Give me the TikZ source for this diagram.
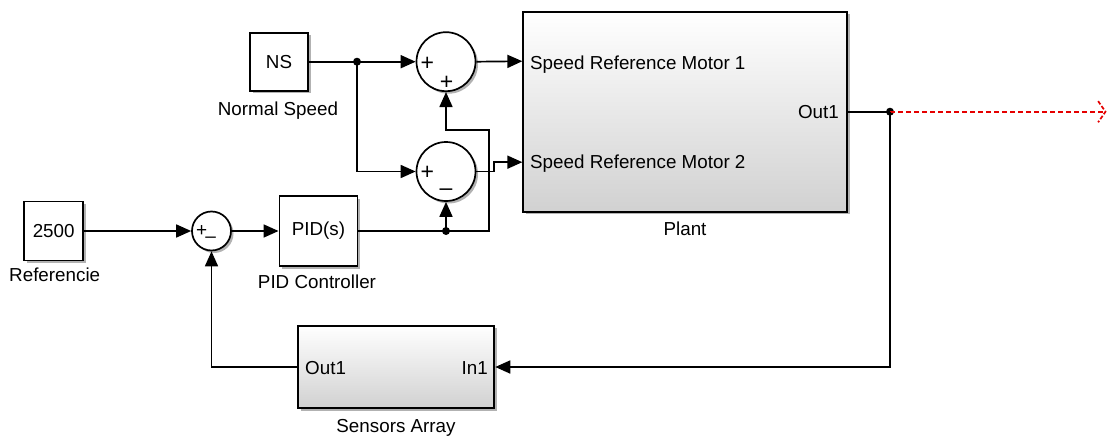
\documentclass[tikz,border=0pt]{standalone}
\usepackage{fontspec}
\setmainfont{Liberation Sans}
\usetikzlibrary{arrows.meta,shadows,calc}
\begin{document}
\begin{tikzpicture}[x=1pt,y=-1pt,
  font=\fontsize{18.8}{22}\selectfont,
  shd/.style={drop shadow={shadow xshift=2.5pt, shadow yshift=-2.5pt, opacity=0.3, fill=black}},
  blk/.style={draw=black, line width=1.9pt, fill=white, inner sep=0pt, shd},
  bigblk/.style={blk, top color=white, bottom color=black!18},
  sumblk/.style={circle, draw=black, line width=1.7pt, fill=white, inner sep=0pt, shd},
  wire/.style={line width=1.7pt, draw=black},
  arr/.style={wire, -{Triangle[length=15pt,width=13pt]}},
  dotn/.style={circle, fill=black, inner sep=0pt, minimum size=8pt},
  lbl/.style={inner sep=0pt},
  sgn/.style={inner sep=0pt, font=\fontsize{23}{23}\selectfont},
  sgnsmall/.style={inner sep=0pt, font=\fontsize{19}{19}\selectfont},
  reddash/.style={draw=red!90!black, line width=1.7pt, dash pattern=on 5pt off 3pt}]
\useasboundingbox (0,0) rectangle (1107,436);

% blocks
\node[blk, minimum width=58pt, minimum height=58pt] (ns) at (279,61.7) {NS};
\node[lbl, anchor=base] (nsl) at (278,115.7) {Normal Speed};
\node[blk, minimum width=59pt, minimum height=59pt] (ref) at (53.7,231) {2500};
\node[lbl, anchor=base] (refl) at (54.7,281.7) {Referencie};
\node[blk, minimum width=78pt, minimum height=70pt] (pid) at (318.5,231) {PID(s)};
\node[lbl, anchor=base] (pidl) at (317,288.3) {PID Controller};

\node[sumblk, minimum size=59pt] (s1) at (446,61.7) {};
\node[sumblk, minimum size=59pt] (s2) at (446,171.5) {};
\node[sumblk, minimum size=39pt] (s3) at (211.5,231) {};
\node[sgn] (s1a) at (427.3,64) {+};
\node[sgn] (s1b) at (446.5,83.3) {+};
\node[sgn] (s2a) at (427.3,173.3) {+};
\node[sgn] (s2b) at (446,191.7) {–};
\node[sgnsmall] (s3a) at (201.7,231) {+};
\node[sgnsmall] (s3b) at (210.7,239.5) {–};

\node[bigblk, minimum width=324pt, minimum height=200pt] (plant) at (685.3,111.7) {};
\node[lbl, anchor=base west] (pt1) at (530,70) {Speed Reference Motor 1};
\node[lbl, anchor=base west] (pt2) at (530,168.5) {Speed Reference Motor 2};
\node[lbl, anchor=base east] (pt3) at (839,118.3) {Out1};
\node[lbl, anchor=base] (plantl) at (685,235) {Plant};

\node[bigblk, minimum width=196pt, minimum height=82.6pt] (sens) at (396.3,367) {};
\node[lbl, anchor=base west] (so) at (305,374) {Out1};
\node[lbl, anchor=base east] (si) at (488,374) {In1};
\node[lbl, anchor=base] (sensl) at (396,432.3) {Sensors Array};

% ports and junctions
\coordinate (pin1) at ($(plant.north west)!0.25!(plant.south west)$);
\coordinate (pin2) at ($(plant.north west)!0.75!(plant.south west)$);
\node[dotn] (d1) at (357,61.7) {};
\node[dotn] (d2) at (446,231) {};
\node[dotn] (d3) at (890,111.7) {};
\coordinate (j2) at (494,171.5);
\coordinate (c1) at (489,231);
\coordinate (c2) at (489,130);
\coordinate (open) at (1105.5,111.7);

% wires
\draw[wire] (ns.east) -- (d1.center);
\draw[arr] (d1.center) -- (s1.west);
\draw[arr] (d1.center) |- (s2.west);
\draw[arr] (s1.east) -- (pin1);
\draw[arr] (s2.east) -- (j2) |- (pin2);
\draw[arr] (ref.east) -- (s3.west);
\draw[arr] (s3.east) -- (pid.west);
\draw[wire] (pid.east) -- (d2.center);
\draw[arr] (d2.center) -- (s2.south);
\draw[arr] (d2.center) -- (c1) -- (c2) -| (s1.south);
\draw[wire] (plant.east) -- (d3.center);
\draw[reddash] (d3.center) -- (open);
\draw[reddash, dash pattern=on 4pt off 2pt] ($(open)+(-7.4,-10.6)$) -- (open) -- ($(open)+(-7.4,10.6)$);
\draw[arr] (d3.center) |- (sens.east);
\draw[arr] (sens.west) -| (s3.south);
\end{tikzpicture}
\end{document}
